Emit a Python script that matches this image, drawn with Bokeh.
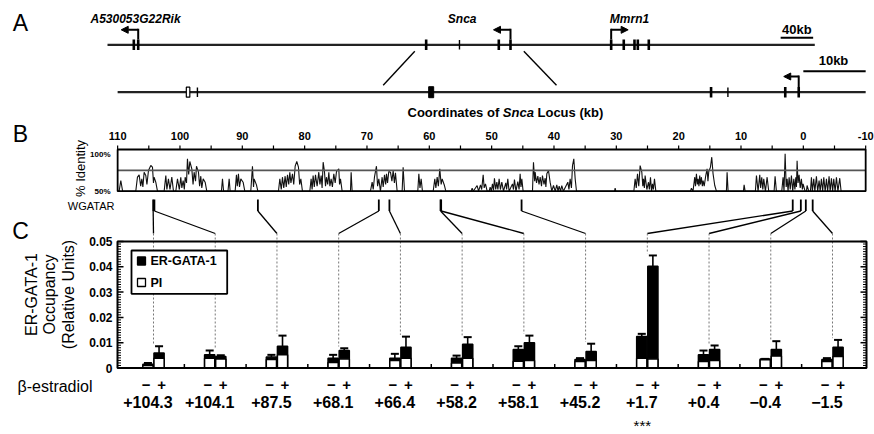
from bokeh.plotting import figure
from bokeh.models import Range1d, Arrow, NormalHead
from bokeh.core.properties import value
from bokeh.embed import file_html
from bokeh.resources import INLINE
import math

# ======================= DATA =======================
# Panel A - overview map (kb along the overview line)
overview_span_kb = [0.0, 870.5]
overview_exons_thick = [32.4, 37.8, 392.2, 481.6, 496.0, 619.9, 635.4, 648.6, 652.7, 666.2]
overview_exons_thin = [433.2]
gene_names = ["A530053G22Rik", "Snca", "Mmrn1"]
gene_label_kb = [34.5, 436.5, 642.5]
gene_tss_kb = [37.8, 496.0, 619.9]
gene_strand = [-1, -1, 1]
overview_scalebar_kb = [828.5, 868.5]
zoom_from_overview_kb = [378.2, 512.4]
zoom_to_locus_kb = [67.4, 39.6]

# Panel A - Snca locus map (kb, same coordinates as panel B)
locus_span_kb = [110.0, -10.0]
locus_exons_thick = [14.8, 2.9, 0.74]
locus_exons_thin = [97.2, 12.1]
locus_exon_open = [98.7]
locus_exon_filled = [59.7]
locus_tss_kb = [0.74]
locus_scalebar_kb = [0.0, -10.0]

# Panel B - conservation plot
axis_ticks_kb = [110, 100, 90, 80, 70, 60, 50, 40, 30, 20, 10, 0, -10]
axis_minor_kb = [105, 95, 85, 75, 65, 55, 45, 35, 25, 15, 5, -5]
wgatar_kb = [104.3, 104.1, 87.5, 68.1, 66.4, 58.2, 58.1, 45.2, 1.7, 0.4, -0.4, -1.5]
identity_trace = [
    (110.0, 50), (109.76, 50), (109.49, 62.8), (109.2, 50),
    (107.09, 50), (106.82, 66.8), (106.55, 69.6), (106.3, 56), (106.12, 64.8), (105.95, 55),
    (105.75, 72.8), (105.48, 68.8), (105.3, 58), (105.05, 74.8), (104.68, 80.8), (104.41, 78.8),
    (104.25, 60), (104.15, 66.8), (103.88, 60.8), (103.61, 50),
    (102.54, 50), (102.27, 68.8), (102.1, 52), (101.85, 64.8), (101.6, 52), (101.31, 66.8), (101.04, 50),
    (100.67, 50), (100.40, 64.8), (100.1, 52), (99.87, 66.8), (99.7, 54), (99.49, 62.8), (99.3, 52),
    (99.17, 66.8), (98.95, 60), (98.80, 88.8), (98.6, 70), (98.42, 85.6), (98.10, 76.8), (97.9, 58),
    (97.73, 72.8), (97.5, 62), (97.35, 80), (97.03, 72.8), (96.85, 56), (96.66, 68), (96.5, 54),
    (96.28, 64.8), (95.96, 60.8), (95.70, 50),
    (93.35, 50), (93.18, 64.8), (93.0, 50),
    (92.3, 50), (92.11, 64.8), (91.95, 50),
    (91.15, 50), (90.94, 69.6), (90.8, 56), (90.62, 70.8), (90.45, 55), (90.24, 64.8), (89.87, 60.8), (89.60, 50),
    (88.64, 50), (88.37, 80), (88.2, 55), (88.10, 64.8), (87.73, 57.6), (87.51, 50),
    (84.20, 50), (83.98, 64.8), (83.75, 52), (83.56, 66.8), (83.35, 54), (83.13, 68), (82.95, 55),
    (82.75, 69.6), (82.55, 58), (82.38, 72.8), (82.2, 60), (81.95, 70.8), (81.75, 58), (81.52, 80),
    (81.26, 85.6), (80.99, 78.8), (80.8, 58), (80.61, 64.8), (80.35, 50),
    (79.17, 50), (78.96, 64.8), (78.8, 52), (78.64, 68.8), (78.45, 55), (78.26, 69.6), (78.0, 56),
    (77.73, 72.8), (77.55, 58), (77.35, 68.8), (77.2, 54), (77.03, 84.8), (76.82, 73.6), (76.65, 56),
    (76.50, 66.8), (76.3, 58), (76.12, 72.8), (75.95, 56), (75.75, 64.8), (75.55, 55), (75.32, 70.8),
    (75.1, 60), (74.89, 73.6), (74.52, 76.8), (74.4, 58), (74.25, 64.8), (73.98, 50),
    (72.65, 50), (72.54, 72.8), (72.38, 50),
    (69.44, 50), (69.17, 60.8), (69.0, 52), (68.80, 66.8), (68.48, 80), (68.3, 56), (68.10, 64.8),
    (67.84, 50), (67.57, 66.8), (67.4, 55), (67.19, 69.6), (67.0, 58), (66.87, 70.8), (66.7, 60),
    (66.50, 73.6), (66.23, 72.8), (66.0, 62), (65.80, 74.8), (65.6, 60), (65.43, 72), (65.16, 50),
    (64.36, 50), (64.20, 78.8), (63.98, 50),
    (61.85, 50), (61.68, 70.8), (61.5, 54), (61.31, 64.8), (61.10, 50),
    (59.38, 50), (59.12, 64.8), (58.95, 54), (58.74, 66.8), (58.55, 56), (58.32, 76.8), (58.1, 58),
    (57.94, 64.8), (57.57, 56.8), (57.35, 50),
    (53.29, 50), (53.13, 53.6), (52.95, 50), (52.33, 56.8), (52.1, 50), (51.79, 57.6), (51.6, 52),
    (51.36, 69.6), (51.2, 54), (50.99, 58.8), (50.72, 50),
    (50.40, 50), (50.24, 54.8), (50.05, 50), (49.87, 58.8), (49.7, 51), (49.55, 65.6), (49.35, 52),
    (49.17, 60.8), (49.0, 52), (48.80, 64.8), (48.6, 52), (48.37, 60.8), (48.1, 50), (47.73, 60),
    (47.6, 52), (47.41, 64.8), (47.2, 50), (46.66, 58.8), (46.5, 52), (46.34, 64), (46.1, 50),
    (45.80, 61.6), (45.6, 52), (45.43, 70.8), (45.3, 55), (45.16, 64.8), (44.95, 50),
    (43.45, 50), (43.29, 84.8), (43.1, 62), (43.02, 72.8), (42.8, 60), (42.59, 68), (42.4, 58),
    (42.22, 66.8), (42.0, 56), (41.85, 68.8), (41.6, 58), (41.42, 65.6), (41.3, 55), (41.15, 70.8),
    (40.88, 74.8), (40.62, 60.8), (40.35, 50), (40.08, 56.8), (39.8, 50), (39.55, 57.6), (39.35, 50),
    (39.17, 56), (38.95, 50), (38.75, 56.8), (38.5, 50), (37.78, 60.8), (37.6, 52), (37.41, 64.8),
    (37.2, 54), (37.03, 80.8), (36.82, 88.8), (36.60, 64.8), (36.39, 50),
    (30.29, 50), (30.19, 53.6), (30.08, 50),
    (27.19, 50), (26.98, 64.8), (26.8, 54), (26.60, 70.8), (26.4, 56), (26.18, 80.8), (25.91, 72.8),
    (25.75, 56), (25.64, 64.8), (25.5, 54), (25.38, 68.8), (25.1, 52), (24.84, 60.8), (24.7, 52),
    (24.52, 66.8), (24.35, 50), (24.20, 58.8), (24.05, 52), (23.88, 64.8), (23.66, 50),
    (18.11, 50), (17.95, 53.6), (17.7, 50), (17.42, 66.8), (17.3, 56), (17.15, 70.8), (17.0, 58),
    (16.88, 64.8), (16.75, 56), (16.62, 68.8), (16.5, 58), (16.35, 66.8), (16.2, 56), (16.08, 62.8),
    (15.9, 56), (15.65, 68.8), (15.44, 76.8), (15.3, 62), (15.17, 73.6), (14.90, 78.8), (14.69, 90.8),
    (14.48, 70.8), (14.21, 56.8), (13.94, 50),
    (12.34, 50), (12.23, 72.8), (12.07, 50),
    (9.61, 50), (9.50, 57.6), (9.34, 50),
    (7.69, 50), (7.52, 68.8), (7.26, 50), (6.99, 69.6), (6.85, 54), (6.67, 66.8), (6.5, 52),
    (6.35, 64.8), (6.08, 50), (5.81, 66.8), (5.55, 50),
    (4.69, 50), (4.53, 68), (4.32, 50),
    (3.46, 50), (3.25, 66.8), (3.1, 50), (2.92, 94.8), (2.75, 55), (2.60, 64.8), (2.45, 50),
    (2.28, 66.8), (2.1, 52), (1.91, 68.8), (1.7, 50), (1.53, 64.8), (1.35, 52), (1.21, 66.8),
    (1.1, 55), (1.00, 86.6), (0.85, 60), (0.68, 69.6), (0.5, 54), (0.31, 64.8), (0.15, 52),
    (0.04, 58.8), (-0.28, 50),
    (-0.50, 50), (-0.60, 56.8), (-0.87, 50),
    (-1.14, 50), (-1.30, 66.8), (-1.45, 50), (-1.67, 64.8), (-1.85, 50), (-2.10, 68), (-2.3, 50),
    (-2.53, 62.8), (-2.7, 50), (-2.90, 64.8), (-3.1, 50), (-3.28, 66.8), (-3.5, 50), (-3.71, 64.8),
    (-3.9, 50), (-4.13, 68), (-4.3, 50), (-4.51, 65.6), (-4.7, 50), (-4.88, 64.8), (-5.1, 50),
    (-5.31, 66.8), (-5.55, 50), (-5.84, 65.6), (-6.06, 50),
    (-10.0, 50),
]

# Panel C - ChIP occupancy
site_labels = ["+104.3", "+104.1", "+87.5", "+68.1", "+66.4", "+58.2", "+58.1",
               "+45.2", "+1.7", "+0.4", "\u22120.4", "\u22121.5"]
er_minus = [0.0015, 0.0052, 0.0043, 0.0039, 0.0039, 0.0039, 0.0073, 0.0034, 0.0125, 0.0052, 0.0036, 0.0034]
pi_minus = [0.0010, 0.0039, 0.0034, 0.0022, 0.0030, 0.0020, 0.0027, 0.0026, 0.0039, 0.0026, 0.0033, 0.0026]
err_minus = [0.0005, 0.0017, 0.0009, 0.0013, 0.0017, 0.0010, 0.0013, 0.0005, 0.0010, 0.0017, 0.0000, 0.0005]
er_plus = [0.0059, 0.0045, 0.0086, 0.0069, 0.0082, 0.0094, 0.0100, 0.0065, 0.0402, 0.0073, 0.0073, 0.0082]
pi_plus = [0.0039, 0.0036, 0.0052, 0.0036, 0.0039, 0.0039, 0.0030, 0.0030, 0.0036, 0.0030, 0.0047, 0.0045]
err_plus = [0.0027, 0.0005, 0.0042, 0.0009, 0.0042, 0.0028, 0.0028, 0.0031, 0.0043, 0.0016, 0.0033, 0.0029]
occ_ticks = [0, 0.01, 0.02, 0.03, 0.04, 0.05]
occ_tick_labels = ["0", "0.01", "0.02", "0.03", "0.04", "0.05"]
occ_minor_step = 0.001
legend_labels = ["ER-GATA-1", "PI"]
significant_site = "+1.7"

# ======================= LAYOUT =======================
FX0, FX1, FY0, FY1 = 0, 874, 0, 434
FONT = value("Liberation Sans")


def scale(v1, p1, v2, p2):
    k = (p2 - p1) / (v2 - v1)
    return (lambda v: p1 + (v - v1) * k), (lambda q: v1 + (q - p1) / k)


def xrange_of(inv):
    return Range1d(start=inv(FX0), end=inv(FX1))


def yrange_of(inv):
    return Range1d(start=inv(FY1), end=inv(FY0))


mapA, mapA_inv = scale(0, 107.0, 40, 139.5)
kbB, kbB_inv = scale(105, 148.3, -5, 834.0)
idB, idB_inv = scale(50, 190.7, 100, 149.0)
grpC, grpC_inv = scale(0, 153.0, 11, 832.0)
occC, occC_inv = scale(0, 367.5, 0.05, 241.0)

p = figure(width=FX1 - FX0, height=FY1 - FY0, output_backend="svg", toolbar_location=None,
           x_range=Range1d(FX0, FX1), y_range=Range1d(FY1, FY0),
           x_axis_type=None, y_axis_type=None, min_border=0, outline_line_color=None)
p.extra_x_ranges = {"ov": xrange_of(mapA_inv), "kb": xrange_of(kbB_inv), "grp": xrange_of(grpC_inv)}
p.extra_y_ranges = {"id": yrange_of(idB_inv), "occ": yrange_of(occC_inv)}


def txt(x, y, s, size, style="bold", align="center", baseline="middle", angle=0.0,
        xr="default", yr="default"):
    p.text(x=[x], y=[y], text=[s], text_font=FONT, text_font_size=f"{size}px",
           text_font_style=style, text_align=align, text_baseline=baseline, angle=angle,
           x_range_name=xr, y_range_name=yr, text_color="black")


def arrow(x0, y0, x1, y1):
    p.add_layout(Arrow(x_start=x0, y_start=y0, x_end=x1, y_end=y1, line_width=2,
                       end=NormalHead(size=7, fill_color="black", line_color="black", line_width=1)))


# ---------------- Panel A ----------------
txt(20, 22, "A", 23, style="normal")
TOP_Y, LOW_Y = 44.3, 91.7
p.line(x=overview_span_kb, y=[TOP_Y, TOP_Y], x_range_name="ov", line_width=2.2, line_color="#222")
n = len(overview_exons_thick)
p.segment(x0=overview_exons_thick, y0=[39.0] * n, x1=overview_exons_thick, y1=[49.5] * n,
          x_range_name="ov", line_width=2.6, line_color="black")
n = len(overview_exons_thin)
p.segment(x0=overview_exons_thin, y0=[39.5] * n, x1=overview_exons_thin, y1=[49.0] * n,
          x_range_name="ov", line_width=1.4, line_color="black")
for name, lab, tss, strand in zip(gene_names, gene_label_kb, gene_tss_kb, gene_strand):
    xt = mapA(tss)
    p.segment(x0=[xt], y0=[39.0], x1=[xt], y1=[28.3], line_width=2, line_color="black")
    arrow(xt, 29.3, xt + strand * 17, 29.3)
    txt(mapA(lab), 18, name, 12, style="bold italic")
# 40kb scale bar
p.line(x=overview_scalebar_kb, y=[37.3, 37.3], x_range_name="ov", line_width=2, line_color="black")
txt(mapA(sum(overview_scalebar_kb) / 2), 28.5, "40kb", 13)
# zoom connectors
for a, b in zip(zoom_from_overview_kb, zoom_to_locus_kb):
    p.line(x=[mapA(a), kbB(b)], y=[50.7, 84.8], line_width=1.4, line_color="black")
# locus line
p.line(x=locus_span_kb, y=[LOW_Y, LOW_Y], x_range_name="kb", line_width=2.2, line_color="#222")
n = len(locus_exons_thick)
p.segment(x0=locus_exons_thick, y0=[86.5] * n, x1=locus_exons_thick, y1=[97.0] * n,
          x_range_name="kb", line_width=2.6, line_color="black")
n = len(locus_exons_thin)
p.segment(x0=locus_exons_thin, y0=[87.0] * n, x1=locus_exons_thin, y1=[96.5] * n,
          x_range_name="kb", line_width=1.4, line_color="black")
p.rect(x=locus_exon_open, y=[LOW_Y], width=3.5, height=10, width_units="screen", height_units="screen",
       x_range_name="kb", fill_color="white", line_color="black", line_width=1.2)
p.rect(x=locus_exon_filled, y=[LOW_Y], width=5, height=11, width_units="screen", height_units="screen",
       x_range_name="kb", fill_color="black", line_color="black", line_width=1)
for tss in locus_tss_kb:
    xt = kbB(tss)
    p.segment(x0=[xt], y0=[86.5], x1=[xt], y1=[75.0], line_width=2, line_color="black")
    arrow(xt, 76.0, xt - 15, 76.0)
p.line(x=locus_scalebar_kb, y=[70.7, 70.7], x_range_name="kb", line_width=2, line_color="black")
txt(kbB(sum(locus_scalebar_kb) / 2) - 1, 60, "10kb", 13)
# axis title pieces
tx = 407
txt(tx, 112, "Coordinates of", 13, align="left")
txt(tx + 95.3, 112, "Snca", 13, style="bold italic", align="left")
txt(tx + 130.0, 112, "Locus (kb)", 13, align="left")

# ---------------- Panel B ----------------
txt(20, 133, "B", 23, style="normal")
for t in axis_ticks_kb:
    txt(t, 135.5, str(t), 11, xr="kb")
all_ticks = axis_ticks_kb + axis_minor_kb
p.segment(x0=all_ticks, y0=[145.0] * len(all_ticks), x1=all_ticks, y1=[149.0] * len(all_ticks),
          x_range_name="kb", line_width=1.2, line_color="black")
trace_kb = [a for a, _ in identity_trace]
trace_pct = [b for _, b in identity_trace]
p.line(x=trace_kb, y=trace_pct, x_range_name="kb", y_range_name="id", line_width=1.1, line_color="#111")
p.segment(x0=[110], y0=[75], x1=[-10], y1=[75], x_range_name="kb", y_range_name="id",
          line_width=1.8, line_color="#555")
p.quad(left=[110], right=[-10], top=[100], bottom=[50], x_range_name="kb", y_range_name="id",
       fill_color=None, line_color="black", line_width=1.8)
txt(110, 100, "100%", 8, align="right", baseline="top", yr="id")
txt(110, 50, "50%", 8, align="right", baseline="alphabetic", yr="id")
txt(80, 168, "% Identity", 13, style="normal", angle=math.pi / 2)
txt(114, 205, "WGATAR", 11, style="normal", align="right")
n = len(wgatar_kb)
p.segment(x0=wgatar_kb, y0=[199.0] * n, x1=wgatar_kb, y1=[210.5] * n, x_range_name="kb",
          line_width=1.8, line_color="black")
# connectors from WGATAR motifs to the assayed sites
for i, kb in enumerate(wgatar_kb):
    p.line(x=[kbB(kb), grpC(i)], y=[210.5, 233.0], line_width=1.3, line_color="black")

# ---------------- Panel C ----------------
txt(20, 230, "C", 23, style="normal")
idx = list(range(len(site_labels)))
tops = [max(a + b, c + d) for a, b, c, d in zip(er_minus, err_minus, er_plus, err_plus)]
p.segment(x0=idx, y0=[occC_inv(233.0)] * len(idx), x1=idx, y1=[t + 0.0007 for t in tops],
          x_range_name="grp", y_range_name="occ", line_dash="2 2", line_color="#777", line_width=1)

OFF, BW, CAP = 0.09, 0.165, 0.065
xm = [i - OFF for i in idx]
xp = [i + OFF for i in idx]
for xs, er, pi, err in ((xm, er_minus, pi_minus, err_minus), (xp, er_plus, pi_plus, err_plus)):
    tops_e = [a + b for a, b in zip(er, err)]
    p.segment(x0=xs, y0=er, x1=xs, y1=tops_e,
              x_range_name="grp", y_range_name="occ", line_width=1.6, line_color="black")
    p.segment(x0=[x - CAP for x in xs], y0=tops_e, x1=[x + CAP for x in xs], y1=tops_e,
              x_range_name="grp", y_range_name="occ", line_width=2, line_color="black")
    p.vbar(x=xs, top=er, bottom=0, width=BW, x_range_name="grp", y_range_name="occ",
           fill_color="black", line_color="black", line_width=1.5)
    p.vbar(x=xs, top=pi, bottom=0, width=BW, x_range_name="grp", y_range_name="occ",
           fill_color="white", line_color="black", line_width=1.5)

# frame
p.quad(left=[117], right=[866], top=[0.05], bottom=[0], y_range_name="occ",
       fill_color=None, line_color="black", line_width=2)
minor = [round(k * occ_minor_step, 4) for k in range(1, 50) if k % 10]
p.segment(x0=[117] * len(minor), y0=minor, x1=[120.5] * len(minor), y1=minor, y_range_name="occ",
          line_width=1, line_color="black")
p.segment(x0=[866] * len(minor), y0=minor, x1=[862.5] * len(minor), y1=minor, y_range_name="occ",
          line_width=1, line_color="black")
p.segment(x0=[117] * 6, y0=occ_ticks, x1=[123] * 6, y1=occ_ticks, y_range_name="occ",
          line_width=1.5, line_color="black")
p.segment(x0=[866] * 6, y0=occ_ticks, x1=[860] * 6, y1=occ_ticks, y_range_name="occ",
          line_width=1.5, line_color="black")
bt = [i + 0.5 for i in idx[:-1]]
p.segment(x0=bt, y0=[367.5] * len(bt), x1=bt, y1=[363.5] * len(bt), x_range_name="grp",
          line_width=1.5, line_color="black")
for t, lab in zip(occ_ticks, occ_tick_labels):
    txt(112, t, lab, 12, align="right", yr="occ")

# y title
for xx, line in zip([31, 49, 68], ["ER-GATA-1", "Occupancy", "(Relative Units)"]):
    txt(xx, 294, line, 16, style="normal", angle=math.pi / 2)

# legend
p.quad(left=[131], right=[226.7], top=[250], bottom=[293.3], fill_color="white",
       line_color="black", line_width=1.8)
p.rect(x=[141, 141], y=[260.5, 282], width=8, height=8, width_units="screen", height_units="screen",
       fill_color=["black", "white"], line_color="black", line_width=1.3)
txt(150, 260.5, legend_labels[0], 12.5, align="left")
txt(150, 282, legend_labels[1], 12.5, align="left")

# x labels
txt(17, 385.5, "\u03b2-estradiol", 16, style="normal", align="left")
for i, lab in zip(idx, site_labels):
    txt(i - 0.12, 384.5, "\u2212", 15, xr="grp")
    txt(i + 0.13, 384.5, "+", 15, xr="grp")
    txt(i - 0.09, 401.7, lab, 16, xr="grp")
sig = site_labels.index(significant_site)
txt(sig - 0.08, 424.5, "***", 15, style="normal", xr="grp")

open("out.html", "w").write(file_html(p, INLINE))
